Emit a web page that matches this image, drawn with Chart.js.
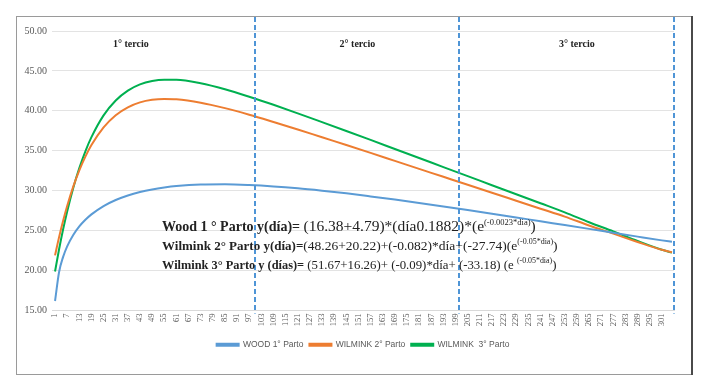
<!DOCTYPE html>
<html>
<head>
<meta charset="utf-8">
<script src="https://cdn.jsdelivr.net/npm/chart.js@4.4.0/dist/chart.umd.min.js"></script>
<style>
  html, body { margin: 0; padding: 0; background: #fff; }
</style>
</head>
<body>
<canvas id="chart" width="708" height="379"></canvas>
<script>
// days sampled along the lactation curve
const days = [1, 3, 5, 7, 10, 13, 16, 19, 25, 31, 37, 43, 49, 55, 61, 73, 85, 97, 109, 121,
  133, 145, 157, 169, 181, 193, 205, 217, 229, 241, 253, 265, 277, 289, 301, 306];

const wood = [16.19, 19.82, 21.72, 23.04, 24.46, 25.53, 26.36, 27.04, 28.08, 28.84, 29.41, 29.84,
  30.16, 30.40, 30.58, 30.77, 30.80, 30.71, 30.54, 30.30, 30.00, 29.67, 29.29, 28.89, 28.47,
  28.03, 27.58, 27.12, 26.65, 26.17, 25.70, 25.22, 24.73, 24.25, 23.78, 23.60];

const wilmink2 = [21.90, 24.19, 26.24, 28.09, 30.51, 32.55, 34.27, 35.72, 37.94, 39.46, 40.45,
  41.06, 41.38, 41.48, 41.44, 41.02, 40.34, 39.52, 38.61, 37.67, 36.69, 35.72, 34.74, 33.74,
  32.74, 31.74, 30.74, 29.75, 28.75, 27.75, 26.75, 25.65, 24.62, 23.58, 22.60, 22.30];

const wilmink3 = [19.89, 22.67, 25.17, 27.41, 30.35, 32.84, 34.94, 36.71, 39.44, 41.30, 42.54,
  43.32, 43.74, 43.90, 43.89, 43.45, 42.70, 41.77, 40.76, 39.69, 38.59, 37.48, 36.36, 35.23,
  34.10, 32.96, 31.83, 30.69, 29.56, 28.43, 27.29, 26.05, 24.90, 23.70, 22.60, 22.25];

const xTicks = [1, 7, 13, 19, 25, 31, 37, 43, 49, 55, 61, 67, 73, 79, 85, 91, 97, 103, 109, 115,
  121, 127, 133, 139, 145, 151, 157, 163, 169, 175, 181, 187, 193, 199, 205, 211, 217, 223, 229,
  235, 241, 247, 253, 259, 265, 271, 277, 283, 289, 295, 301];

const seriesNames = ["WOOD 1° Parto", "WILMINK 2° Parto", "WILMINK  3° Parto"];
const colors = ["#5b9bd5", "#ed7d31", "#00b050"];

const dividers = [100, 200.5, 307];
const tercios = ["1° tercio", "2° tercio", "3° tercio"];
const tercioDays = [38.5, 150.5, 259];

const equations = [
  [["Wood 1 ° Parto y(día)= ", "b"], ["(16.38+4.79)*(día0.1882)*(e", "n"], ["(-0.0023*dia)", "s"], [")", "n"]],
  [["Wilmink 2° Parto y(día)=", "b"], ["(48.26+20.22)+(-0.082)*día+(-27.74)(e", "n"], ["(-0.05*dia)", "s"], [")", "n"]],
  [["Wilmink 3° Parto y (días)= ", "b"], ["(51.67+16.26)+ (-0.09)*día+ (-33.18) (e ", "n"], ["(-0.05*dia)", "s"], [")", "n"]]
];
// per line: bold size, normal size, superscript size, horizontal squeeze
const eqSizes = [[14, 15.5, 8.5, 1], [13, 13.5, 8, 1], [13, 13.5, 8.3, 0.95]];

const toPoints = vals => vals.map((v, i) => ({ x: days[i], y: v }));

const overlay = {
  id: "overlay",
  afterDatasetsDraw(chart) {
    const { ctx, chartArea, scales: { x } } = chart;
    ctx.save();

    // dashed separators of the thirds
    ctx.strokeStyle = "#4f95d6";
    ctx.lineWidth = 2;
    ctx.setLineDash([5, 3]);
    dividers.forEach(d => {
      const px = Math.round(x.getPixelForValue(d));
      ctx.beginPath();
      ctx.moveTo(px, 17);
      ctx.lineTo(px, chartArea.bottom + 3);
      ctx.stroke();
    });
    ctx.setLineDash([]);

    // tercio labels
    ctx.fillStyle = "#222";
    ctx.font = "bold 10px 'Liberation Serif'";
    ctx.textAlign = "center";
    ctx.textBaseline = "middle";
    tercios.forEach((t, i) => ctx.fillText(t, x.getPixelForValue(tercioDays[i]), 44));

    // equations
    ctx.textAlign = "left";
    ctx.textBaseline = "alphabetic";
    equations.forEach((line, i) => {
      const [sb, sn, ss, sq] = eqSizes[i];
      const fonts = {
        b: `bold ${sb}px 'Liberation Serif'`,
        n: `${sn}px 'Liberation Serif'`,
        s: `${ss}px 'Liberation Serif'`
      };
      const base = 231 + i * 19;
      ctx.save();
      ctx.translate(162, base);
      ctx.scale(sq, 1);
      let cx = 0;
      line.forEach(([txt, kind]) => {
        ctx.font = fonts[kind];
        ctx.fillText(txt, cx, kind === "s" ? -6 : 0);
        cx += ctx.measureText(txt).width;
      });
      ctx.restore();
    });
    ctx.restore();
  },
  afterDraw(chart) {
    const { ctx } = chart;
    ctx.save();
    ctx.strokeStyle = "#9a9a9a";
    ctx.lineWidth = 1;
    ctx.strokeRect(16.5, 16.5, 675, 358);
    ctx.strokeStyle = "#4a4a4a";
    ctx.lineWidth = 2;
    ctx.beginPath();
    ctx.moveTo(692, 16);
    ctx.lineTo(692, 375);
    ctx.stroke();
    ctx.restore();
  }
};

new Chart(document.getElementById("chart"), {
  type: "line",
  data: {
    datasets: [wood, wilmink2, wilmink3].map((vals, i) => ({
      label: seriesNames[i],
      data: toPoints(vals),
      borderColor: colors[i],
      backgroundColor: colors[i],
      borderWidth: 2,
      pointRadius: 0,
      cubicInterpolationMode: "monotone",
      fill: false
    }))
  },
  options: {
    responsive: false,
    animation: false,
    layout: { padding: { left: 17, right: 34, top: 31, bottom: 20 } },
    scales: {
      x: {
        type: "linear",
        min: -0.5,
        max: 307,
        afterBuildTicks: axis => { axis.ticks = xTicks.map(v => ({ value: v })); },
        afterFit: axis => { axis.height = 24; },
        grid: { display: false, drawTicks: false },
        border: { color: "#d9d9d9" },
        ticks: {
          autoSkip: false,
          minRotation: 90,
          maxRotation: 90,
          padding: 3,
          color: "#595959",
          font: { family: "'Liberation Serif'", size: 8.5 }
        }
      },
      y: {
        min: 15,
        max: 50,
        afterFit: axis => { axis.width = 35; },
        grid: { color: "#e3e3e3", drawTicks: false },
        border: { display: false },
        ticks: {
          stepSize: 5,
          padding: 5,
          color: "#595959",
          font: { family: "'Liberation Serif'", size: 10 },
          callback: v => v.toFixed(2)
        }
      }
    },
    plugins: {
      legend: {
        position: "bottom",
        fullSize: false,
        labels: {
          boxWidth: 22,
          boxHeight: 2,
          padding: 6,
          color: "#595959",
          font: { family: "'Liberation Sans'", size: 8.5 }
        }
      },
      tooltip: { enabled: false }
    }
  },
  plugins: [overlay]
});
</script>
</body>
</html>
